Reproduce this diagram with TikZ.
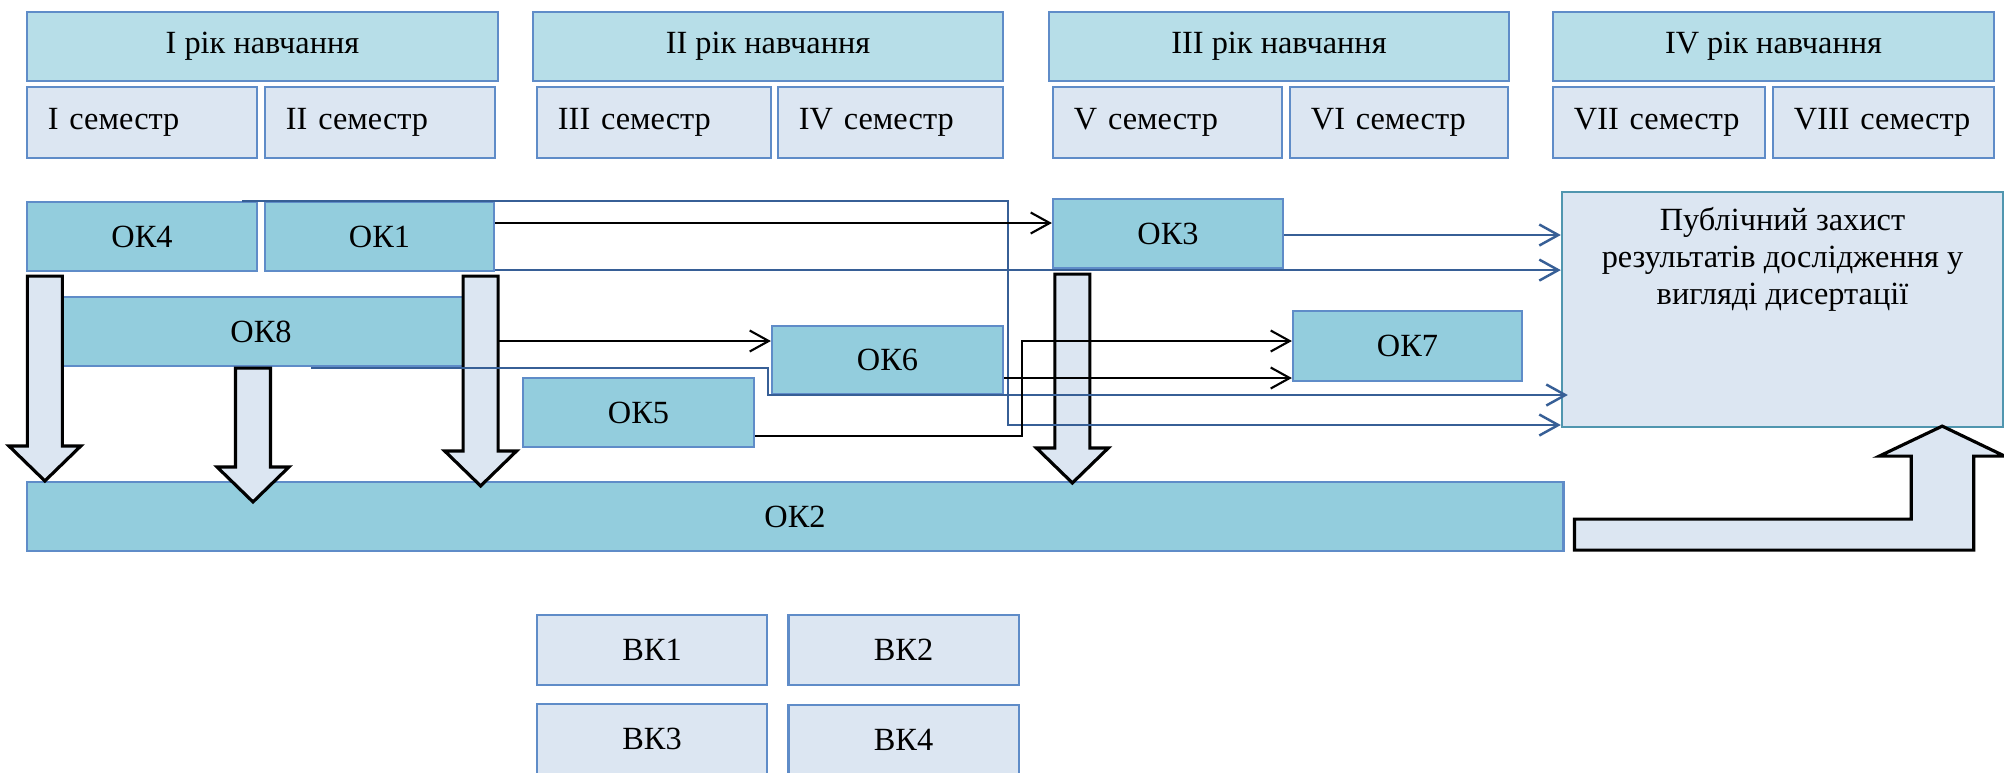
\documentclass[tikz,border=0pt]{standalone}
\usepackage{fontspec}
\setmainfont{Liberation Serif}
\usepackage{tikz}
\usetikzlibrary{shapes}
\usetikzlibrary{arrows.meta}
\usetikzlibrary{calc}
\definecolor{anfond}{HTML}{B7DEE8}
\definecolor{semfond}{HTML}{DCE6F2}
\definecolor{okfond}{HTML}{93CDDD}
\definecolor{bordbleu}{RGB}{95,140,200}
\definecolor{bordsout}{RGB}{80,150,175}
\definecolor{ligne}{RGB}{55,95,150}
\tikzstyle{annee}=[rectangle,draw=bordbleu,fill=anfond,line width=0.6pt,minimum height=0.69cm,inner sep=0pt]
\tikzstyle{semestre}=[rectangle,draw=bordbleu,fill=semfond,line width=0.6pt,minimum height=0.71cm,inner xsep=0.21cm,inner ysep=0pt,align=left]
\tikzstyle{module}=[rectangle,draw=bordbleu,fill=okfond,line width=0.6pt,minimum height=0.69cm,inner sep=0pt]
\tikzstyle{choix}=[rectangle,draw=bordbleu,fill=semfond,line width=0.6pt,minimum width=2.30cm,minimum height=0.70cm,inner sep=0pt]
\tikzstyle{soutenance}=[rectangle,draw=bordsout,fill=semfond,line width=0.6pt,minimum width=4.41cm,minimum height=2.35cm]
\tikzstyle{lienbleu}=[-{Straight Barb[length=1.9mm,width=2.1mm]},draw=ligne,line width=0.7pt]
\tikzstyle{liennoir}=[-{Straight Barb[length=1.9mm,width=2.1mm]},draw=black,line width=0.6pt]
\tikzstyle{bloc}=[draw=black,fill=semfond,line width=0.9pt,line join=miter]
% grosse fleche vers le bas : depart, pointe
\newcommand{\grossefleche}[2]{%
  \draw[bloc] ($(#1)+(-17.5,0)$) -- ($(#1)+(17.5,0)$) -- ($(#2)+(17.5,-35)$) -- ($(#2)+(36,-35)$)
    -- (#2) -- ($(#2)+(-36,-35)$) -- ($(#2)+(-17.5,-35)$) -- cycle;}

\begin{document}
\begin{tikzpicture}[x=0.01cm,y=-0.01cm,font=\fontsize{9.2}{10.5}\selectfont]
\useasboundingbox (0,0) rectangle (2004,772);
%Years
\node[annee,minimum width=4.71cm] (an1) at (262.5,46.5) {I рік навчання};
\node[annee,minimum width=4.70cm] (an2) at (768,46.5) {II рік навчання};
\node[annee,minimum width=4.60cm] (an3) at (1279,46.5) {III рік навчання};
\node[annee,minimum width=4.41cm] (an4) at (1773.5,46.5) {IV рік навчання};
%Semesters
\node[semestre,text width=1.88cm] (s1) at (142,122.5) {I семестр};
\node[semestre,text width=1.88cm] (s2) at (380,122.5) {II семестр};
\node[semestre,text width=1.92cm] (s3) at (654,122.5) {III семестр};
\node[semestre,text width=1.83cm] (s4) at (890.5,122.5) {IV семестр};
\node[semestre,text width=1.87cm] (s5) at (1167.5,122.5) {V семестр};
\node[semestre,text width=1.76cm] (s6) at (1399,122.5) {VI семестр};
\node[semestre,text width=1.70cm] (s7) at (1659,122.5) {VII семестр};
\node[semestre,text width=1.79cm] (s8) at (1883.5,122.5) {VIII семестр};
%Modules
\node[module,minimum width=2.30cm] (ok4) at (142,236.5) {ОК4};
\node[module,minimum width=2.29cm] (ok1) at (379.5,236.5) {ОК1};
\node[module,minimum width=4.66cm] (ok8) at (261,331.5) {ОК8};
\node[module,minimum width=2.30cm] (ok3) at (1168,233.5) {ОК3};
\node[module,minimum width=2.31cm,minimum height=0.68cm] (ok6) at (887.5,360) {ОК6};
\node[module,minimum width=2.31cm] (ok5) at (638.5,412.5) {ОК5};
\node[module,minimum width=2.29cm,minimum height=0.70cm] (ok7) at (1407.5,346) {ОК7};
\node[module,minimum width=15.36cm] (ok2) at (795,516.5) {ОК2};
\node[soutenance] (defense) at (1782.5,309.5) {};
\node[anchor=north,align=center,inner sep=0pt] (titre) at (1782.5,207) {Публічний захист\\результатів дослідження у\\вигляді дисертації};
%Electives
\node[choix] (bk1) at (652,650) {ВК1};
\node[choix] (bk2) at (903.5,650) {ВК2};
\node[choix] (bk3) at (652,739) {ВК3};
\node[choix] (bk4) at (903.5,740) {ВК4};
%Drawing Edges
\coordinate (b8) at ($(ok8.east)+(0,9.5)$);
\draw[liennoir] (b8) -- (b8 -| ok6.west);
\coordinate (h1) at ($(ok4.south west)+(19,4)$);
\coordinate (h2) at ($(ok8.south)+(-8,1)$);
\coordinate (h3) at ($(ok1.south east)+(-14.5,4)$);
\coordinate (h4) at ($(ok3.south west)+(20.5,5)$);
\coordinate (p1) at (h1 |- ok2.north);
\coordinate (p2) at ($(h2 |- ok2.north)+(0,21)$);
\coordinate (p3) at ($(h3 |- ok2.north)+(0,5)$);
\coordinate (p4) at ($(h4 |- ok2.north)+(0,2)$);
\grossefleche{h1}{p1}
\grossefleche{h2}{p2}
\grossefleche{h3}{p3}
\grossefleche{h4}{p4}
\coordinate (a1) at ($(ok4.north east)+(-16,0)$);
\coordinate (c1) at (1008,425);
\draw[lienbleu] (a1) -| (c1) -- (c1 -| defense.west);
\draw[liennoir] ($(ok1.east)+(0,-13.5)$) -- ($(ok3.west)+(0,-10.5)$);
\coordinate (b1) at ($(ok1.south east)+(0,-2)$);
\draw[lienbleu] (b1) -- (b1 -| defense.west);
\draw[lienbleu] ($(ok3.east)+(0,1.5)$) -- ($(ok3.east -| defense.west)+(0,1.5)$);
\coordinate (a8) at ($(ok8.south west)+(284,1)$);
\coordinate (c8) at (768,395);
\draw[lienbleu] (a8) -| (c8) -- ($(c8 -| defense.west)+(7,0)$);
\coordinate (a5) at ($(ok5.east)+(0,23.5)$);
\coordinate (c5) at (1022,341);
\draw[liennoir] (a5) -| (c5) -- (c5 -| ok7.west);
\coordinate (a6) at ($(ok6.east)+(0,18)$);
\draw[liennoir] (a6) -- (a6 -| ok7.west);
\coordinate (dep) at ($(ok2.south east)+(10,-2)$);
\coordinate (pointe) at ($(defense.south east)+(-62,-2)$);
\draw[bloc] (dep) -| ($(pointe)+(31.5,30)$) -- ++(31,0) -- (pointe) -- ++(-63,30) -- ++(32,0) |- ($(dep)+(0,-31)$) -- cycle;
\end{tikzpicture}
\end{document}
